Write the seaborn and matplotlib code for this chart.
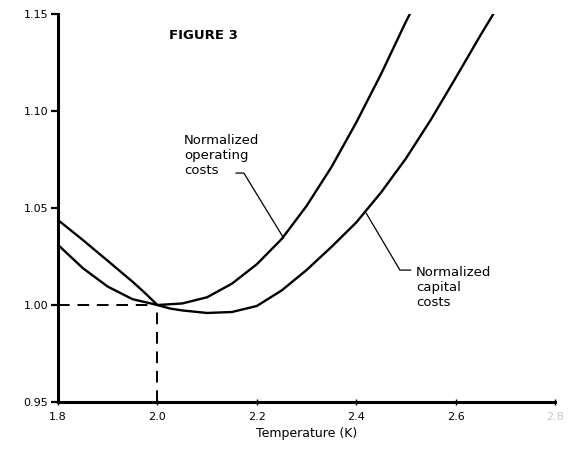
import matplotlib
matplotlib.use("Agg")
import matplotlib.pyplot as plt
import seaborn as sns
import pandas as pd

# values (normalized cost vs temperature)
temp_oper = [1.80, 1.85, 1.90, 1.95, 2.00, 2.05, 2.10, 2.15, 2.20, 2.25,
             2.30, 2.35, 2.40, 2.45, 2.50, 2.508]
cost_oper = [1.031, 1.019, 1.0095, 1.003, 1.000, 1.0008, 1.004, 1.011, 1.021,
             1.034, 1.051, 1.071, 1.094, 1.119, 1.146, 1.150]

temp_cap = [1.80, 1.85, 1.90, 1.95, 1.975, 2.00, 2.025, 2.05, 2.10, 2.15, 2.20,
            2.25, 2.30, 2.35, 2.40, 2.45, 2.50, 2.55, 2.60, 2.65, 2.676]
cost_cap = [1.0438, 1.0335, 1.0228, 1.012, 1.0062, 1.000, 0.9982, 0.9972,
            0.9959, 0.9964, 0.9995, 1.0075, 1.018, 1.0299, 1.0425, 1.058,
            1.0755, 1.0954, 1.117, 1.139, 1.150]

x_ticks = [1.8, 2.0, 2.2, 2.4, 2.6, 2.8]
y_ticks = [0.95, 1.00, 1.05, 1.10, 1.15]
ref_t, ref_c = 2.0, 1.0

sns.set_style("ticks")
plt.rcParams.update({
    "font.family": ["DejaVu Sans"],
    "text.color": "black", "axes.edgecolor": "black",
    "xtick.color": "black", "ytick.color": "black",
    "axes.labelcolor": "black",
})

df = pd.concat([
    pd.DataFrame({"T": temp_oper, "c": cost_oper, "s": "oper"}),
    pd.DataFrame({"T": temp_cap, "c": cost_cap, "s": "cap"}),
])

fig = plt.figure(figsize=(5.76, 4.51), dpi=100)
ax = fig.add_axes([0.1007, 0.1086, 0.8628, 0.8604])
sns.lineplot(data=df, x="T", y="c", units="s", estimator=None, sort=False,
             color="black", lw=1.7, ax=ax, legend=False)

# dashed reference lines
ax.plot([1.8, ref_t], [ref_c, ref_c], color="black", lw=1.4, ls=(0, (6, 4)))
ax.plot([ref_t, ref_t], [0.95, ref_c], color="black", lw=1.4, ls=(0, (6, 4)))

ax.set_xlim(1.8, 2.795)
ax.set_ylim(0.95, 1.15)
ax.set_xticks(x_ticks)
ax.set_yticks(y_ticks)
ax.set_xticklabels([f"{v:.1f}" for v in x_ticks], fontsize=8)
ax.set_yticklabels([f"{v:.2f}" for v in y_ticks], fontsize=8)
ax.get_xticklabels()[-1].set_color("#c8c8c8")
ax.tick_params(axis="y", direction="out", length=5, width=1.6, pad=2)
ax.tick_params(axis="x", direction="inout", length=4, width=1, pad=5)
ax.set_xlabel("Temperature (K)", fontsize=9, labelpad=4)
ax.set_ylabel("")
sns.despine(ax=ax)
for sp in ("left", "bottom"):
    ax.spines[sp].set_linewidth(2.2)

ax.text(2.024, 1.139, "FIGURE 3", fontsize=9.5, fontweight="bold", va="center")

# annotations
ax.text(2.054, 1.0882, "Normalized\noperating\ncosts", fontsize=9.5,
        linespacing=1.2, va="top", ha="left")
ax.plot([2.158, 2.174, 2.254], [1.0680, 1.0680, 1.0345], color="black", lw=0.9)

ax.text(2.52, 1.0200, "Normalized\ncapital\ncosts", fontsize=9.5,
        linespacing=1.2, va="top", ha="left")
ax.plot([2.51, 2.488, 2.42], [1.0180, 1.0180, 1.0474], color="black", lw=0.9)

fig.savefig("out.png", dpi=100)
